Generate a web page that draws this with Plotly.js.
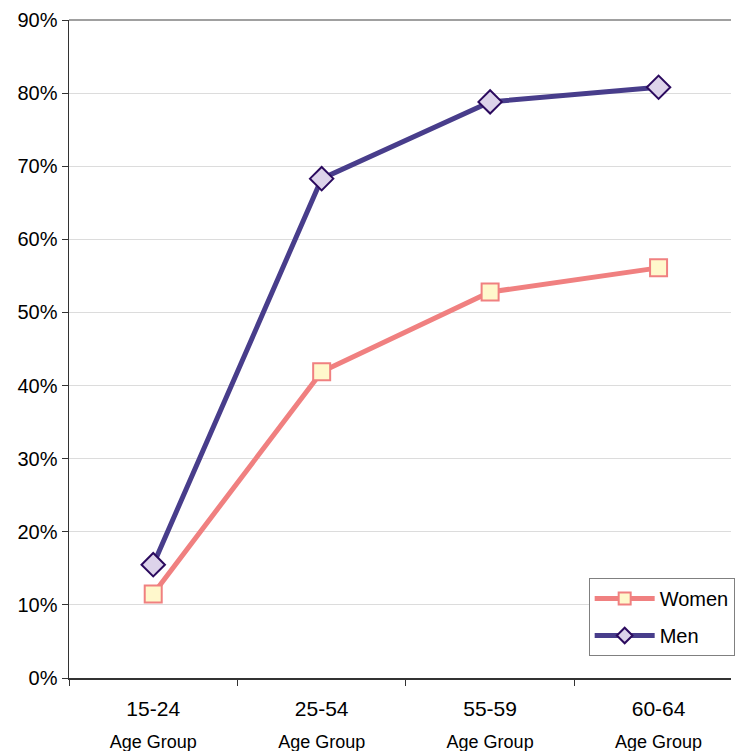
<!DOCTYPE html>
<html>
<head>
<meta charset="utf-8">
<script src="https://cdn.plot.ly/plotly-3.0.1.min.js"></script>
<style>html,body{margin:0;padding:0;background:#fff;}#chart{width:735px;height:751px;}</style>
</head>
<body>
<div id="chart"></div>
<script>
var categories = ["15-24", "25-54", "55-59", "60-64"];
var groupLabel = "Age Group";
var women = [0.115, 0.419, 0.528, 0.561];
var men = [0.155, 0.683, 0.788, 0.808];
var yTicks = [0, 0.1, 0.2, 0.3, 0.4, 0.5, 0.6, 0.7, 0.8, 0.9];

var tickLabels = categories.map(function (c) {
  return "<span style='font-size:21px'>" + c + "</span><br><span style='font-size:18px'>" + groupLabel + "</span>";
});

var traces = [
  {
    x: categories, y: women, name: "Women", type: "scatter", mode: "lines+markers",
    legendgroup: "w",
    line: {color: "#f08080", width: 5},
    marker: {symbol: "square", size: 17, color: "#fff8cc", line: {color: "#f08080", width: 2}}
  },
  {
    x: categories, y: men, name: "Men", type: "scatter", mode: "lines+markers",
    legendgroup: "m",
    line: {color: "#483d8b", width: 5},
    marker: {symbol: "diamond", size: 18, color: "#ddd3ea", line: {color: "#2b0a5e", width: 2}}
  }
];

var layout = {
  width: 735, height: 751,
  margin: {l: 69, r: 0, t: 20, b: 73},
  paper_bgcolor: "#ffffff", plot_bgcolor: "#ffffff",
  font: {family: "Liberation Sans, Arial, sans-serif", size: 18, color: "#000"},
  showlegend: true,
  legend: {
    x: 0.785, y: 0.152, xanchor: "left", yanchor: "top",
    bgcolor: "#ffffff", bordercolor: "#808080", borderwidth: 1,
    font: {size: 20}, tracegroupgap: 8, itemsizing: "constant", itemwidth: 60,
    traceorder: "grouped"
  },
  xaxis: {
    type: "category", range: [-0.5, 3.43],
    tickmode: "array", tickvals: categories, ticktext: tickLabels,
    tickson: "boundaries", ticks: "outside", ticklen: 6, tickcolor: "#333",
    ticklabelstandoff: 6,
    showline: true, linecolor: "#333", linewidth: 1.5, mirror: false,
    showgrid: false, zeroline: false, fixedrange: true,
    tickfont: {size: 25}
  },
  yaxis: {
    range: [0, 0.9], tickmode: "array", tickvals: yTicks, tickformat: ".0%",
    ticks: "outside", ticklen: 6, tickcolor: "#333",
    showline: true, linecolor: "#333", linewidth: 1.5,
    showgrid: true, gridcolor: "#dcdcdc", gridwidth: 1, zeroline: false,
    tickfont: {size: 20}, fixedrange: true
  },
  shapes: [
    {type: "line", xref: "paper", yref: "paper", x0: 0, x1: 1, y0: 1, y1: 1, line: {color: "#808080", width: 1.5}}
  ]
};

Plotly.newPlot("chart", traces, layout, {displayModeBar: false, staticPlot: true});
</script>
</body>
</html>
